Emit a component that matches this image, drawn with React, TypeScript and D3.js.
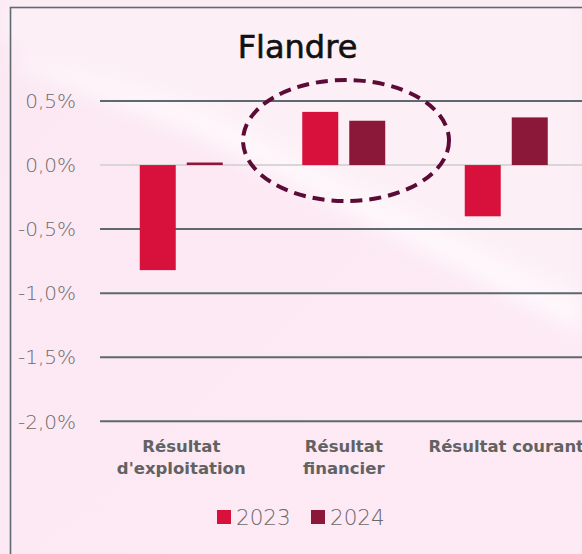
import React from "react";
import * as d3 from "d3";

const categories: string[][] = [["Résultat", "d'exploitation"], ["Résultat", "financier"], ["Résultat courant"]];
const categoryKeys = ["exploitation", "financier", "courant"];
const seriesNames = ["2023", "2024"];
const values2023 = [-0.82, 0.415, -0.40];
const values2024 = [0.02, 0.346, 0.372];
const yTicks = [0.5, 0, -0.5, -1.0, -1.5, -2.0];
const title = "Flandre";

const W = 582;
const H = 554;
const colors = ["#d7103c", "#8b1838"];

export default function App() {
  const y = d3.scaleLinear().domain([-2, 0.5]).range([421.3, 101]);
  const x = d3.scaleBand<string>().domain(categoryKeys).range([100, 587.5]).paddingInner(0).paddingOuter(0);
  const bw = x.bandwidth();
  const xs = d3.scaleBand<string>().domain(seriesNames).range([0, bw]).paddingInner(11 / 47).paddingOuter(0.846);
  const series = [values2023, values2024];
  const fmt = (v: number) => d3.format(".1f")(v).replace(".", ",").replace("−", "-") + "%";

  return (
    <svg width={W} height={H} style={{ position: "absolute", left: 0, top: 0 }} xmlns="http://www.w3.org/2000/svg">
      <defs>
        <linearGradient id="bg" x1="0" y1="0" x2="1" y2="1">
          <stop offset="0" stopColor="#fbe8f2" />
          <stop offset="1" stopColor="#fdeaf5" />
        </linearGradient>
        <filter id="blur" x="-20%" y="-20%" width="140%" height="140%">
          <feGaussianBlur stdDeviation="10" />
        </filter>
      </defs>
      <rect x={0} y={0} width={W} height={H} fill="url(#bg)" />
      <polygon points="0,0 582,0 582,320 0,40" fill="#fcf0f6" filter="url(#blur)" />
      <polygon points="20,55 200,110 582,300 582,335 200,135 20,70" fill="#fefafc" opacity={0.8} filter="url(#blur)" />
      <rect x={10.5} y={7.5} width={W + 20} height={H + 20} fill="none" stroke="#5e6a73" strokeWidth={1.6} />

      <text x={297.5} y={58} textAnchor="middle" fontFamily="'DejaVu Sans', sans-serif" fontSize={32} fill="#111" stroke="#111" strokeWidth={0.6}>
        {title}
      </text>

      {yTicks.map((t) => (
        <g key={t}>
          <line x1={100} x2={W} y1={y(t)} y2={y(t)} stroke={t === 0 ? "#d9d6d8" : "#5d6871"} strokeWidth={2} />
          <text x={76} y={y(t)} dy="0.36em" textAnchor="end" fontFamily="'DejaVu Sans', sans-serif" fontWeight={200} fontSize={20} fill="#6a6a6a">
            {fmt(t)}
          </text>
        </g>
      ))}

      {categoryKeys.map((c, i) => (
        <g key={c} transform={`translate(${x(c)},0)`}>
          {series.map((vals, s) => {
            const v = vals[i];
            const y0 = y(0);
            const y1 = y(v);
            return (
              <rect key={s} x={xs(seriesNames[s])} width={xs.bandwidth()} y={Math.min(y0, y1)} height={Math.abs(y1 - y0)} fill={colors[s]} />
            );
          })}
          <text x={bw / 2} y={452} textAnchor="middle" fontFamily="'DejaVu Sans', sans-serif" fontWeight={700} fontSize={16.5} fill="#626262">
            {categories[i].map((line, k) => (
              <tspan key={k} x={bw / 2} dy={k === 0 ? 0 : 22}>
                {line}
              </tspan>
            ))}
          </text>
        </g>
      ))}

      <ellipse cx={346} cy={140.5} rx={103} ry={60.5} fill="none" stroke="#5c0a36" strokeWidth={4} strokeDasharray="12 7" />

      {seriesNames.map((s, k) => (
        <g key={s}>
          <rect x={217 + k * 94} y={510} width={14} height={14} fill={colors[k]} />
          <text x={236 + k * 94} y={524.5} fontFamily="'DejaVu Sans', sans-serif" fontWeight={200} fontSize={21.5} fill="#6a6a6a">
            {s}
          </text>
        </g>
      ))}
    </svg>
  );
}
